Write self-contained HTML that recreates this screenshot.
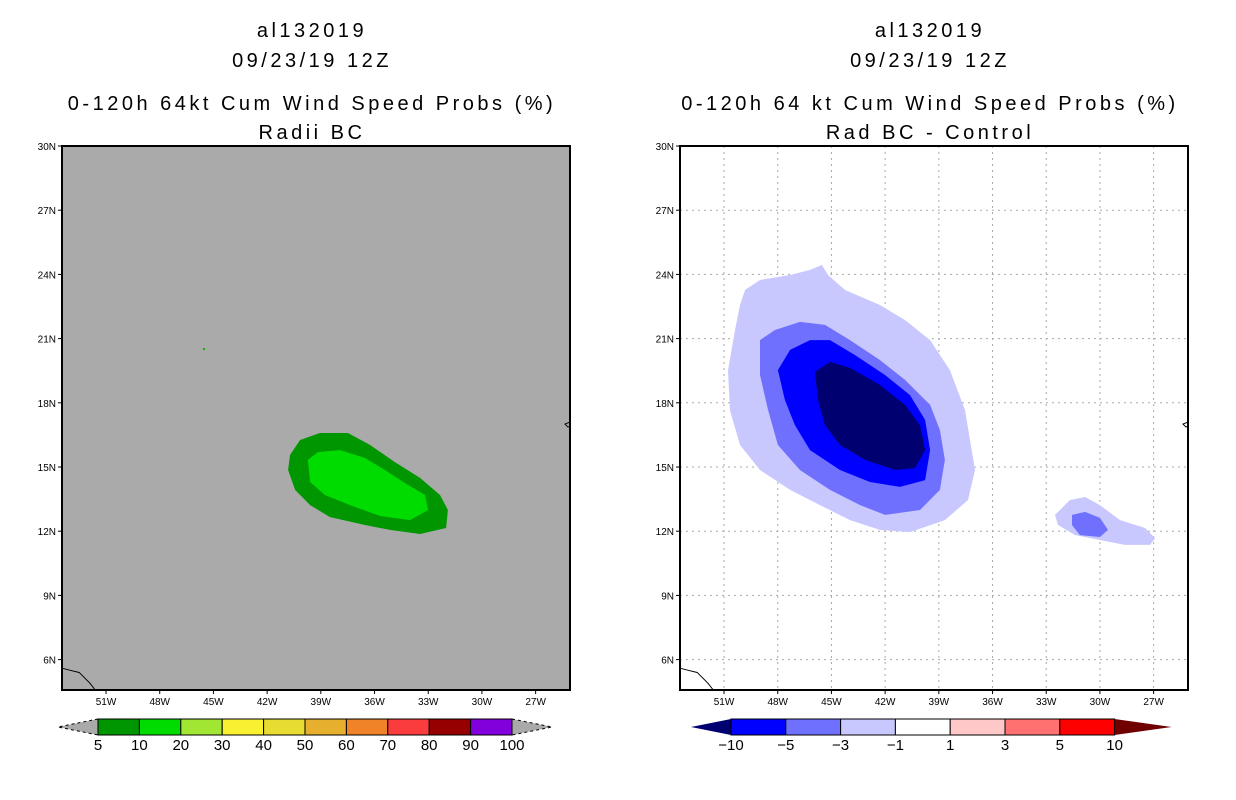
<!DOCTYPE html>
<html><head><meta charset="utf-8">
<style>
html,body{margin:0;padding:0;background:#fff;}
svg{display:block;font-family:"Liberation Sans",sans-serif;}
</style></head>
<body>
<svg id="fig" width="1236" height="800" viewBox="0 0 1236 800" xmlns="http://www.w3.org/2000/svg">
<g font-size="20" text-anchor="middle" fill="#000" letter-spacing="3.5">
<text x="312" y="37">al132019</text>
<text x="312" y="67">09/23/19 12Z</text>
<text x="312" y="110">0-120h 64kt Cum Wind Speed Probs (%)</text>
<text x="312" y="139">Radii BC</text>
</g>
<g font-size="20" text-anchor="middle" fill="#000" letter-spacing="3.5">
<text x="930" y="37">al132019</text>
<text x="930" y="67">09/23/19 12Z</text>
<text x="930" y="110">0-120h 64 kt Cum Wind Speed Probs (%)</text>
<text x="930" y="139">Rad BC - Control</text>
</g>
<g id="left"></g>
<g id="right"></g>
<g id="lcb"></g>
<g id="rcb"></g>
</svg>
<script>
const latTicks = [30,27,24,21,18,15,12,9,6];
const lonTicks = [51,48,45,42,39,36,33,30,27];
const lonMax = 53.46, lonMin = 25.08, latMax = 30, latMin = 4.58;
const probDark = [[40.72,15.56],[40.16,16.26],[39.05,16.59],[37.48,16.59],[36.25,16.03],[34.86,15.23],[33.46,14.49],[32.34,13.69],[31.9,12.99],[32.0,12.15],[33.46,11.87],[35.14,12.06],[36.53,12.29],[38.49,12.66],[39.6,13.22],[40.44,13.93],[40.83,14.86]];
const probLight = [[39.72,15.33],[39.16,15.7],[37.93,15.79],[36.53,15.42],[35.42,14.86],[34.3,14.25],[33.18,13.69],[33.01,12.99],[34.02,12.52],[35.7,12.71],[37.37,13.22],[38.77,13.69],[39.6,14.3]];
const probDot = [45.53,20.51];
const diffM1 = [[49.83,23.27],[48.99,23.74],[47.31,23.97],[46.2,24.21],[45.53,24.44],[45.19,23.97],[44.24,23.27],[42.29,22.57],[40.89,21.87],[39.49,20.93],[38.38,19.53],[37.54,17.66],[37.26,16.26],[36.98,14.86],[37.37,13.46],[38.66,12.52],[40.61,11.96],[42.29,12.06],[43.96,12.52],[45.64,13.22],[47.31,13.93],[48.99,14.86],[50.11,16.03],[50.67,17.66],[50.78,19.53],[50.39,21.4],[50.11,22.57]];
const diffM3 = [[48.99,20.93],[48.15,21.4],[46.76,21.78],[45.36,21.64],[43.96,20.93],[42.29,20.0],[40.89,19.07],[39.49,17.9],[38.94,16.73],[38.66,15.33],[38.94,13.93],[40.05,12.99],[42.01,12.76],[43.4,13.22],[45.08,13.93],[46.76,14.86],[47.99,16.03],[48.54,17.66],[48.99,19.3]];
const diffM5 = [[47.99,19.53],[47.31,20.47],[46.2,20.93],[45.08,20.93],[43.68,20.23],[42.01,19.3],[40.61,18.36],[39.77,17.2],[39.49,15.79],[39.77,14.39],[41.17,14.07],[42.85,14.3],[44.52,14.86],[46.2,15.79],[47.04,16.96],[47.6,18.13]];
const diffM10 = [[45.92,19.44],[45.08,19.91],[43.96,19.63],[42.29,18.83],[40.89,17.9],[40.05,16.96],[39.77,15.79],[40.33,14.95],[41.45,14.86],[43.12,15.33],[44.52,16.03],[45.36,16.96],[45.75,18.13]];
const diffSmallM1 = [[32.51,12.76],[31.67,13.46],[30.83,13.6],[30.0,13.22],[28.88,12.52],[27.48,12.15],[26.92,11.68],[27.2,11.36],[28.6,11.36],[30.0,11.59],[31.39,11.82],[32.34,12.29]];
const diffSmallM3 = [[31.56,12.76],[30.83,12.9],[30.0,12.62],[29.55,12.06],[30.0,11.73],[31.12,11.82],[31.56,12.29]];
const coast = [[53.46,5.6],[53.0,5.5],[52.5,5.4],[51.9,4.9],[51.6,4.58]];
const probLevels = [5,10,20,30,40,50,60,70,80,90,100];
const probColors = ['#009600','#00dc00','#a0e632','#faf032','#e6dc32','#e6af2d','#f08228','#fa3c3c','#960000','#8200dc'];
const diffLevels = [-10,-5,-3,-1,1,3,5,10];
const diffColors = ['#0000ff','#7070ff','#c8c8ff','#ffffff','#ffc8c8','#ff7070','#ff0000'];

const NS='http://www.w3.org/2000/svg';
function mk(tag, attrs, parent){const e=document.createElementNS(NS,tag);for(const k in attrs)e.setAttribute(k,attrs[k]);parent.appendChild(e);return e;}
function drawMap(g, x0, grid){
  const W=508,H=544,y0=146;
  const px=lon=>x0+(lonMax-lon)/(lonMax-lonMin)*W;
  const py=lat=>y0+(latMax-lat)/(latMax-latMin)*H;
  const poly=(pts,fill,name)=>{const p=mk('polygon',{points:pts.map(d=>px(d[0]).toFixed(1)+','+py(d[1]).toFixed(1)).join(' '),fill:fill},g);
    
    return p;};
  const bg=mk('rect',{x:x0,y:y0,width:W,height:H,fill:grid?'#fff':'#aaaaaa'},g);
  
  
  if(grid){
    lonTicks.forEach(l=>{const e=mk('line',{x1:px(l),x2:px(l),y1:y0,y2:y0+H,stroke:'#aaa','stroke-dasharray':'2,4'},g);
      
      });
    latTicks.forEach(l=>{const e=mk('line',{x1:x0,x2:x0+W,y1:py(l),y2:py(l),stroke:'#aaa','stroke-dasharray':'2,4'},g);
      
      });
    poly(diffM1,'#c8c8ff','contour-minus1');
    poly(diffM3,'#7070ff','contour-minus3');
    poly(diffM5,'#0000ff','contour-minus5');
    poly(diffM10,'#000070','contour-minus10');
    poly(diffSmallM1,'#c8c8ff','contour-small-minus1');
    poly(diffSmallM3,'#7070ff','contour-small-minus3');
  } else {
    poly(probDark,'#009600','contour-5pct');
    poly(probLight,'#00dc00','contour-10pct');
    const d=mk('rect',{x:px(probDot[0])-1,y:py(probDot[1])-1,width:2,height:2,fill:'#00b400'},g);
    
    
  }
  const c=mk('polyline',{points:coast.map(d=>px(d[0])+','+py(d[1])).join(' '),fill:'none',stroke:'#000','stroke-width':1},g);
  
  
  const isl=mk('path',{d:`M${x0+W} ${py(17.1)} l-5 2 l3 3 l2 -1`,fill:'none',stroke:'#000','stroke-width':1},g);
  
  
  const fr=mk('rect',{x:x0,y:y0,width:W,height:H,fill:'none',stroke:'#000','stroke-width':2},g);
  
  
  latTicks.forEach(l=>{
    const t=mk('line',{x1:x0-4,x2:x0,y1:py(l),y2:py(l),stroke:'#000'},g);
    
    
    const tx=mk('text',{x:x0-6,y:py(l)+4,'font-size':10,'text-anchor':'end'},g);tx.textContent=l+'N';
    
    
  });
  lonTicks.forEach(l=>{
    const t=mk('line',{x1:px(l),x2:px(l),y1:y0+H,y2:y0+H+4,stroke:'#000'},g);
    
    
    const tx=mk('text',{x:px(l),y:y0+H+15,'font-size':10,'text-anchor':'middle'},g);tx.textContent=l+'W';
    
    
  });
}
drawMap(document.getElementById('left'),62,false);
drawMap(document.getElementById('right'),680,true);

function drawBar(g, x0, bw, levels, colors, leftTri, rightTri, dashTri){
  const y=719,h=16,n=colors.length,xe=x0+n*bw;
  const tl=mk('polygon',{points:`${x0},${y} ${x0-40},${y+h/2} ${x0},${y+h}`,fill:leftTri,stroke:dashTri?'#000':'none','stroke-dasharray':'3,3'},g);
  
  
  const tr=mk('polygon',{points:`${xe},${y} ${xe+(dashTri?40:57)},${y+h/2} ${xe},${y+h}`,fill:rightTri,stroke:dashTri?'#000':'none','stroke-dasharray':'3,3'},g);
  
  
  colors.forEach((c,i)=>{
    const r=mk('rect',{x:x0+i*bw,y:y,width:bw,height:h,fill:c,stroke:'#000','stroke-width':1},g);
    
    
  });
  levels.forEach((v,i)=>{
    const t=mk('text',{x:x0+i*bw,y:y+h+15,'font-size':15,'text-anchor':'middle'},g);
    t.textContent=v<0?'\u2212'+(-v):String(v);
    
    
  });
}
drawBar(document.getElementById('lcb'),98,41.4,probLevels,probColors,'#aaaaaa','#aaaaaa',true);
drawBar(document.getElementById('rcb'),731,54.8,diffLevels,diffColors,'#000070','#700000',false);
</script>
</body></html>
